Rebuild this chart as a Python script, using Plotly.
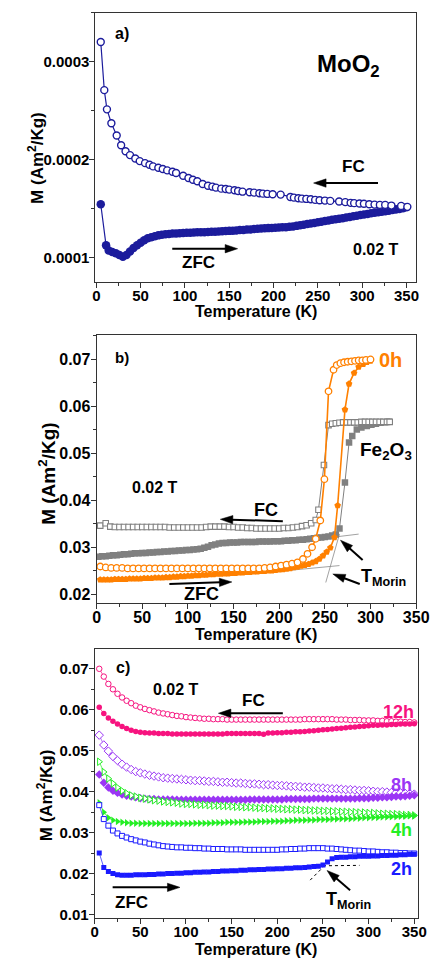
import numpy as np
import plotly.graph_objects as go

W, H = 441, 963
FONT = "Liberation Sans, Arial, sans-serif"

# ---------------- (a) MoO2 ----------------
a_fc_T = [5, 9, 12, 17, 23, 28, 33, 38, 44, 49,
          55, 60, 64, 70, 75, 80, 86, 90, 98, 104,
          109, 114, 120, 126, 131, 135, 141, 146, 150, 156,
          160, 165, 173, 178, 184, 188, 193, 199, 208, 219,
          223, 228, 232, 237, 242, 247, 252, 258, 264, 274,
          281, 287, 291, 297, 302, 308, 314, 320, 326, 333,
          344, 351]
# magnetisation in units of 1e-4 Am^2/kg
a_fc_M = [3.203, 2.712, 2.516, 2.374, 2.249, 2.150, 2.089, 2.049, 2.015, 1.988,
          1.967, 1.950, 1.934, 1.920, 1.907, 1.893, 1.879, 1.866, 1.839, 1.815,
          1.798, 1.782, 1.754, 1.737, 1.727, 1.717, 1.707, 1.703, 1.697, 1.690,
          1.683, 1.676, 1.670, 1.666, 1.660, 1.656, 1.653, 1.650, 1.646, 1.622,
          1.615, 1.609, 1.605, 1.602, 1.598, 1.592, 1.589, 1.585, 1.582, 1.575,
          1.569, 1.562, 1.559, 1.555, 1.552, 1.548, 1.544, 1.541, 1.541, 1.534,
          1.531, 1.521]

a_zfc_T = [5, 11, 14, 18, 22, 26, 30, 34, 38, 42,
           46, 50, 54, 58, 62, 66, 70, 74, 78, 82,
           86, 90, 94, 98, 102, 106, 110, 114, 118, 122,
           126, 130, 134, 138, 142, 146, 150, 154, 158, 162,
           166, 170, 174, 178, 182, 186, 190, 194, 198, 202,
           206, 210, 214, 218, 222, 226, 230, 234, 238, 242,
           246, 250, 254, 258, 262, 266, 270, 274, 278, 282,
           286, 290, 294, 298, 302, 306, 310, 314, 318, 322,
           326, 330, 334, 338, 342, 346, 350]
a_zfc_M = [1.548, 1.128, 1.075, 1.060, 1.048, 1.030, 1.012, 1.030, 1.065, 1.100,
           1.130, 1.155, 1.180, 1.200, 1.212, 1.222, 1.230, 1.236, 1.241, 1.245,
           1.248, 1.250, 1.252, 1.254, 1.256, 1.258, 1.260, 1.261, 1.262, 1.263,
           1.264, 1.266, 1.268, 1.270, 1.272, 1.274, 1.276, 1.278, 1.281, 1.284,
           1.286, 1.289, 1.291, 1.294, 1.297, 1.299, 1.302, 1.304, 1.306, 1.308,
           1.310, 1.312, 1.314, 1.317, 1.321, 1.327, 1.333, 1.339, 1.345, 1.351,
           1.357, 1.363, 1.370, 1.377, 1.383, 1.389, 1.395, 1.400, 1.406, 1.412,
           1.418, 1.424, 1.431, 1.437, 1.443, 1.449, 1.455, 1.461, 1.466, 1.472,
           1.477, 1.482, 1.488, 1.493, 1.499, 1.507, 1.518]

# ---------------- (b) Fe2O3 and 0h ----------------
b_fe_fc_T = [4, 10, 15, 20, 25, 30, 35, 40, 45, 50,
             55, 60, 65, 70, 75, 80, 85, 90, 95, 100,
             105, 110, 115, 120, 125, 130, 135, 140, 145, 150,
             155, 160, 165, 170, 175, 180, 185, 190, 195, 200,
             205, 210, 215, 220, 225, 230, 235, 240, 243, 249,
             254, 258, 262, 266, 270, 274, 278, 282, 286, 290,
             294, 298, 302, 306, 310, 314, 318, 321]
b_fe_fc_M = [0.0346, 0.0351, 0.0344, 0.0343, 0.0343, 0.0343, 0.0343, 0.0343, 0.0343, 0.0343,
             0.0343, 0.0343, 0.0343, 0.0343, 0.0343, 0.0342, 0.0342, 0.0342, 0.0342, 0.0342,
             0.0342, 0.0342, 0.0342, 0.0343, 0.0344, 0.0344, 0.0344, 0.0344, 0.0343, 0.0343,
             0.0342, 0.0342, 0.0341, 0.0341, 0.0340, 0.0340, 0.0340, 0.0340, 0.0340, 0.0340,
             0.0341, 0.0341, 0.0342, 0.0343, 0.0345, 0.0347, 0.0351, 0.0358, 0.0380, 0.0475,
             0.0560, 0.0563, 0.0564, 0.0565, 0.0566, 0.0566, 0.0566, 0.0566, 0.0566, 0.0567,
             0.0567, 0.0567, 0.0567, 0.0567, 0.0567, 0.0567, 0.0567, 0.0567]

b_fe_zfc_T = [2, 6, 10, 14, 18, 22, 26, 30, 34, 38,
              42, 46, 50, 54, 58, 62, 66, 70, 74, 78,
              82, 86, 90, 94, 98, 102, 106, 110, 114, 118,
              122, 126, 130, 134, 138, 142, 146, 150, 154, 158,
              162, 166, 170, 174, 178, 182, 186, 190, 194, 198,
              202, 206, 210, 214, 218, 222, 226, 230, 234, 238,
              242, 246, 250, 254, 258, 262, 266, 272, 276.5, 280,
              285, 290, 296, 301, 306, 311, 316, 320]
b_fe_zfc_M = [0.0280, 0.0281, 0.0281, 0.0282, 0.0283, 0.0283, 0.0284, 0.0285, 0.0285, 0.0286,
              0.0287, 0.0287, 0.0288, 0.0288, 0.0289, 0.0289, 0.0290, 0.0290, 0.0291, 0.0291,
              0.0292, 0.0292, 0.0293, 0.0293, 0.0294, 0.0294, 0.0295, 0.0296, 0.0297, 0.0299,
              0.0301, 0.0304, 0.0306, 0.0308, 0.0309, 0.0309, 0.0310, 0.0310, 0.0310, 0.0311,
              0.0311, 0.0311, 0.0311, 0.0311, 0.0312, 0.0312, 0.0312, 0.0312, 0.0313, 0.0313,
              0.0313, 0.0314, 0.0314, 0.0315, 0.0315, 0.0316, 0.0316, 0.0317, 0.0318, 0.0319,
              0.0320, 0.0321, 0.0322, 0.0323, 0.0325, 0.0327, 0.0340, 0.0438, 0.0523, 0.0537,
              0.0551, 0.0555, 0.0558, 0.0561, 0.0563, 0.0565, 0.0566, 0.0567]

b_0h_fc_T = [4, 10, 16, 22, 28, 34, 40, 46, 52, 58,
             64, 70, 76, 82, 88, 94, 100, 106, 112, 118,
             124, 130, 136, 142, 148, 154, 160, 166, 172, 178,
             184, 190, 196, 202, 208, 214, 220, 226, 231, 236,
             240, 245, 249.5, 254, 259.5, 263, 267, 271, 275, 279,
             283, 287, 291, 295, 300]
b_0h_fc_M = [0.0259, 0.0257, 0.0256, 0.0256, 0.0256, 0.0255, 0.0255, 0.0255, 0.0255, 0.0255,
             0.0255, 0.0255, 0.0255, 0.0255, 0.0255, 0.0255, 0.0255, 0.0255, 0.0255, 0.0255,
             0.0255, 0.0255, 0.0255, 0.0255, 0.0255, 0.0255, 0.0255, 0.0255, 0.0255, 0.0255,
             0.0256, 0.0257, 0.0259, 0.0261, 0.0263, 0.0265, 0.0268, 0.0275, 0.0286, 0.0300,
             0.0318, 0.0357, 0.0445, 0.0632, 0.0678, 0.0688, 0.0692, 0.0694, 0.0695, 0.0696,
             0.0697, 0.0698, 0.0698, 0.0699, 0.0700]

b_0h_zfc_T = [4, 8, 12, 16, 20, 24, 28, 32, 36, 40,
              44, 48, 52, 56, 60, 64, 68, 72, 76, 80,
              84, 88, 92, 96, 100, 104, 108, 112, 116, 120,
              124, 128, 132, 136, 140, 144, 148, 152, 156, 160,
              164, 168, 172, 176, 180, 184, 188, 192, 196, 200,
              204, 208, 212, 216, 220, 224, 228, 232, 236, 240,
              244, 248, 252, 256, 260.5, 264, 272, 276.5, 282, 287,
              292, 296, 300]
b_0h_zfc_M = [0.0231, 0.0231, 0.0231, 0.0231, 0.0232, 0.0232, 0.0232, 0.0232, 0.0233, 0.0233,
              0.0233, 0.0233, 0.0234, 0.0234, 0.0234, 0.0235, 0.0235, 0.0235, 0.0236, 0.0236,
              0.0237, 0.0237, 0.0238, 0.0238, 0.0239, 0.0239, 0.0240, 0.0240, 0.0241, 0.0241,
              0.0242, 0.0242, 0.0243, 0.0243, 0.0244, 0.0244, 0.0245, 0.0245, 0.0246, 0.0246,
              0.0247, 0.0247, 0.0248, 0.0248, 0.0249, 0.0249, 0.0250, 0.0250, 0.0251, 0.0252,
              0.0253, 0.0254, 0.0255, 0.0257, 0.0258, 0.0260, 0.0262, 0.0264, 0.0267, 0.0270,
              0.0275, 0.0282, 0.0290, 0.0299, 0.0321, 0.0389, 0.0593, 0.0648, 0.0671, 0.0684,
              0.0690, 0.0694, 0.0697]

# Morin-point construction lines (T, M pairs)
b_tangents = [((180, 266), (0.0245, 0.0261)),
              ((251, 266), (0.0225, 0.0328)),
              ((215, 287), (0.0311, 0.0328))]

# ---------------- (c) milled samples ----------------
c_T = [5, 10, 15, 20, 25, 30, 35, 40, 45, 50,
       55, 60, 65, 70, 75, 80, 85, 90, 95, 100,
       105, 110, 115, 120, 125, 130, 135, 140, 145, 150,
       155, 160, 165, 170, 175, 180, 185, 190, 195, 200,
       205, 210, 215, 220, 225, 230, 235, 240, 245, 250,
       255, 260, 265, 270, 275, 280, 285, 290, 295, 300,
       305, 310, 315, 320, 325, 330, 335, 340, 345, 350]

c_12h_fc = [0.0700, 0.0681, 0.0663, 0.0650, 0.0639, 0.0630, 0.0622, 0.0616, 0.0610, 0.0606,
            0.0602, 0.0599, 0.0596, 0.0593, 0.0591, 0.0589, 0.0587, 0.0585, 0.0584, 0.0582,
            0.0581, 0.0580, 0.0579, 0.0578, 0.0578, 0.0577, 0.0577, 0.0577, 0.0576, 0.0576,
            0.0576, 0.0576, 0.0576, 0.0576, 0.0576, 0.0576, 0.0576, 0.0576, 0.0576, 0.0576,
            0.0576, 0.0576, 0.0576, 0.0576, 0.0576, 0.0577, 0.0577, 0.0577, 0.0577, 0.0577,
            0.0577, 0.0577, 0.0576, 0.0576, 0.0576, 0.0575, 0.0575, 0.0575, 0.0574, 0.0574,
            0.0574, 0.0573, 0.0573, 0.0572, 0.0572, 0.0571, 0.0571, 0.0570, 0.0570, 0.0569]
c_12h_zfc = [0.0606, 0.0591, 0.0580, 0.0572, 0.0565, 0.0559, 0.0554, 0.0550, 0.0547, 0.0545,
             0.0544, 0.0543, 0.0543, 0.0542, 0.0542, 0.0542, 0.0541, 0.0541, 0.0541, 0.0541,
             0.0541, 0.0541, 0.0541, 0.0541, 0.0541, 0.0541, 0.0541, 0.0541, 0.0542, 0.0542,
             0.0542, 0.0542, 0.0542, 0.0542, 0.0542, 0.0542, 0.0540, 0.0543, 0.0543, 0.0544,
             0.0544, 0.0545, 0.0545, 0.0546, 0.0546, 0.0547, 0.0548, 0.0549, 0.0550, 0.0551,
             0.0552, 0.0553, 0.0554, 0.0555, 0.0556, 0.0557, 0.0558, 0.0559, 0.0560, 0.0561,
             0.0562, 0.0562, 0.0563, 0.0563, 0.0564, 0.0564, 0.0565, 0.0565, 0.0565, 0.0566]
c_8h_fc = [0.0538, 0.0514, 0.0499, 0.0486, 0.0476, 0.0467, 0.0460, 0.0454, 0.0449, 0.0446,
           0.0443, 0.0440, 0.0438, 0.0436, 0.0434, 0.0433, 0.0432, 0.0431, 0.0430, 0.0429,
           0.0428, 0.0427, 0.0427, 0.0426, 0.0425, 0.0425, 0.0424, 0.0423, 0.0423, 0.0422,
           0.0421, 0.0421, 0.0420, 0.0419, 0.0419, 0.0418, 0.0417, 0.0417, 0.0416, 0.0415,
           0.0415, 0.0414, 0.0413, 0.0413, 0.0412, 0.0411, 0.0411, 0.0410, 0.0409, 0.0409,
           0.0408, 0.0407, 0.0407, 0.0406, 0.0405, 0.0405, 0.0404, 0.0403, 0.0403, 0.0402,
           0.0401, 0.0400, 0.0400, 0.0399, 0.0398, 0.0397, 0.0397, 0.0396, 0.0395, 0.0394]
c_8h_zfc = [0.0442, 0.0422, 0.0410, 0.0402, 0.0397, 0.0393, 0.0390, 0.0388, 0.0386, 0.0384,
            0.0383, 0.0382, 0.0382, 0.0381, 0.0381, 0.0381, 0.0381, 0.0380, 0.0380, 0.0380,
            0.0380, 0.0380, 0.0380, 0.0380, 0.0380, 0.0380, 0.0380, 0.0380, 0.0380, 0.0380,
            0.0380, 0.0380, 0.0380, 0.0381, 0.0381, 0.0381, 0.0381, 0.0381, 0.0381, 0.0381,
            0.0381, 0.0382, 0.0382, 0.0382, 0.0382, 0.0382, 0.0382, 0.0383, 0.0383, 0.0383,
            0.0383, 0.0383, 0.0383, 0.0383, 0.0383, 0.0383, 0.0383, 0.0384, 0.0384, 0.0384,
            0.0385, 0.0385, 0.0386, 0.0386, 0.0387, 0.0388, 0.0388, 0.0389, 0.0390, 0.0391]
c_4h_fc = [0.0473, 0.0448, 0.0432, 0.0420, 0.0410, 0.0402, 0.0396, 0.0391, 0.0388, 0.0385,
           0.0383, 0.0381, 0.0379, 0.0378, 0.0376, 0.0375, 0.0374, 0.0373, 0.0371, 0.0370,
           0.0370, 0.0369, 0.0368, 0.0368, 0.0367, 0.0366, 0.0366, 0.0365, 0.0365, 0.0364,
           0.0363, 0.0363, 0.0362, 0.0362, 0.0361, 0.0360, 0.0360, 0.0359, 0.0359, 0.0358,
           0.0358, 0.0357, 0.0357, 0.0356, 0.0356, 0.0355, 0.0355, 0.0354, 0.0354, 0.0353,
           0.0353, 0.0352, 0.0352, 0.0351, 0.0351, 0.0350, 0.0350, 0.0349, 0.0349, 0.0348,
           0.0348, 0.0347, 0.0346, 0.0346, 0.0345, 0.0345, 0.0344, 0.0343, 0.0343, 0.0342]
c_4h_zfc = [0.0373, 0.0350, 0.0336, 0.0330, 0.0327, 0.0325, 0.0324, 0.0323, 0.0323, 0.0322,
            0.0322, 0.0322, 0.0322, 0.0322, 0.0322, 0.0322, 0.0322, 0.0322, 0.0322, 0.0322,
            0.0322, 0.0323, 0.0323, 0.0323, 0.0323, 0.0324, 0.0324, 0.0324, 0.0325, 0.0325,
            0.0325, 0.0325, 0.0326, 0.0326, 0.0326, 0.0327, 0.0327, 0.0327, 0.0328, 0.0328,
            0.0328, 0.0329, 0.0329, 0.0330, 0.0330, 0.0330, 0.0331, 0.0331, 0.0332, 0.0332,
            0.0332, 0.0333, 0.0333, 0.0334, 0.0334, 0.0334, 0.0335, 0.0335, 0.0336, 0.0336,
            0.0337, 0.0337, 0.0338, 0.0338, 0.0339, 0.0339, 0.0340, 0.0340, 0.0341, 0.0341]
c_2h_fc = [0.0367, 0.0333, 0.0317, 0.0305, 0.0298, 0.0292, 0.0288, 0.0284, 0.0281, 0.0278,
           0.0276, 0.0273, 0.0271, 0.0269, 0.0267, 0.0266, 0.0265, 0.0264, 0.0264, 0.0263,
           0.0263, 0.0262, 0.0262, 0.0261, 0.0261, 0.0260, 0.0260, 0.0260, 0.0259, 0.0259,
           0.0259, 0.0259, 0.0258, 0.0258, 0.0258, 0.0258, 0.0258, 0.0258, 0.0258, 0.0258,
           0.0259, 0.0259, 0.0260, 0.0260, 0.0261, 0.0261, 0.0262, 0.0262, 0.0262, 0.0262,
           0.0261, 0.0261, 0.0260, 0.0259, 0.0258, 0.0257, 0.0256, 0.0256, 0.0255, 0.0254,
           0.0254, 0.0253, 0.0252, 0.0252, 0.0251, 0.0251, 0.0250, 0.0250, 0.0249, 0.0249]
c_2h_zfc = [0.0250, 0.0215, 0.0205, 0.0200, 0.0197, 0.0196, 0.0196, 0.0196, 0.0197, 0.0197,
            0.0197, 0.0198, 0.0198, 0.0199, 0.0199, 0.0200, 0.0200, 0.0201, 0.0201, 0.0202,
            0.0202, 0.0203, 0.0203, 0.0204, 0.0204, 0.0205, 0.0205, 0.0206, 0.0206, 0.0207,
            0.0207, 0.0208, 0.0208, 0.0209, 0.0209, 0.0210, 0.0210, 0.0211, 0.0211, 0.0212,
            0.0212, 0.0213, 0.0213, 0.0214, 0.0214, 0.0215, 0.0216, 0.0217, 0.0218, 0.0221,
            0.0228, 0.0236, 0.0239, 0.0240, 0.0240, 0.0241, 0.0241, 0.0242, 0.0242, 0.0242,
            0.0243, 0.0243, 0.0244, 0.0244, 0.0245, 0.0245, 0.0246, 0.0246, 0.0247, 0.0247]

# dotted Morin construction for 2h (T, M pairs)
c_tangents = [((236, 253), (0.0184, 0.0222)),
              ((250, 290), (0.0219, 0.0220)),
              ((215, 252), (0.0212, 0.0220))]

NAVY = "#1c1c9c"
ORANGE = "#ff8000"
GREY = "#808080"
PINK = "#f7137f"
PURPLE = "#9b35f5"
GREEN = "#24ee24"
BLUE = "#1a1aff"

fig = go.Figure()


def series(x, y, axis, color, symbol, size, hollow, lw=1.0, mlw=1.2):
    fig.add_trace(go.Scatter(
        x=x, y=y, xaxis="x" + axis, yaxis="y" + axis, mode="lines+markers",
        line=dict(color=color, width=lw),
        marker=dict(symbol=symbol, size=size,
                    color="white" if hollow else color,
                    line=dict(color=color, width=mlw if hollow else 0)),
        showlegend=False, hoverinfo="skip"))


# (a)
series(a_zfc_T, np.array(a_zfc_M) * 1e-4, "", NAVY, "circle", 8.5, False, lw=1.2)
series(a_fc_T, np.array(a_fc_M) * 1e-4, "", NAVY, "circle", 7, True, lw=1.2, mlw=1.4)

# (b)
for (tx, ty) in b_tangents:
    fig.add_trace(go.Scatter(x=tx, y=ty, xaxis="x2", yaxis="y2", mode="lines",
                             line=dict(color="#8a8a8a", width=0.8),
                             showlegend=False, hoverinfo="skip"))
series(b_fe_zfc_T, b_fe_zfc_M, "2", GREY, "square", 6.5, False)
series(b_fe_fc_T, b_fe_fc_M, "2", GREY, "square", 5.5, True, mlw=1.1)
series(b_0h_zfc_T, b_0h_zfc_M, "2", ORANGE, "pentagon", 7, False, lw=1.6)
series(b_0h_fc_T, b_0h_fc_M, "2", ORANGE, "circle", 6.5, True, lw=1.6, mlw=1.3)

# (c)
for (tx, ty) in c_tangents:
    fig.add_trace(go.Scatter(x=tx, y=ty, xaxis="x3", yaxis="y3", mode="lines",
                             line=dict(color="black", width=1, dash="dot"),
                             showlegend=False, hoverinfo="skip"))
series(c_T, c_12h_fc, "3", PINK, "circle", 5.5, True, lw=0.7, mlw=1)
series(c_T, c_12h_zfc, "3", PINK, "circle", 5.5, False, lw=0.7)
series(c_T, c_8h_fc, "3", PURPLE, "diamond", 6.5, True, lw=0.7, mlw=1)
series(c_T, c_8h_zfc, "3", PURPLE, "diamond", 6.5, False, lw=0.7)
series(c_T, c_4h_fc, "3", GREEN, "triangle-right", 6.5, True, lw=0.7, mlw=1)
series(c_T, c_4h_zfc, "3", GREEN, "triangle-right", 6.5, False, lw=0.7)
series(c_T, c_2h_fc, "3", BLUE, "square", 5, True, lw=0.7, mlw=1)
series(c_T, c_2h_zfc, "3", BLUE, "square", 5, False, lw=0.7)


def dom(p0, p1, size):
    return [p0 / size, p1 / size]


def ydom(top, bottom):
    return [1 - bottom / H, 1 - top / H]


def xax(domain, rng, anchor, fsize):
    return dict(domain=domain, range=rng, anchor=anchor, showgrid=False, zeroline=False,
                showline=True, mirror=True, linecolor="#333", linewidth=1,
                ticks="outside", ticklen=5, tickcolor="#333", tick0=0, dtick=50,
                ticklabelstandoff=-5,
                minor=dict(dtick=25, ticks="outside", ticklen=3, tickcolor="#333"),
                tickfont=dict(family=FONT, size=fsize, color="black", weight="bold"))


def yax(domain, rng, anchor, dtick, fmt, fsize):
    return dict(domain=domain, range=rng, anchor=anchor, showgrid=False, zeroline=False,
                showline=True, mirror=True, linecolor="#333", linewidth=1,
                ticks="outside", ticklen=5, tickcolor="#333", tick0=0, dtick=dtick,
                tickformat=fmt, ticklabelstandoff=-3,
                minor=dict(dtick=dtick / 2, ticks="outside", ticklen=3, tickcolor="#333"),
                tickfont=dict(family=FONT, size=fsize, color="black", weight="bold"))


anns = []
shapes = []


def text(t, px, py, size, color="black", **kw):
    anns.append(dict(text="<b>" + t + "</b>", x=px / W, y=1 - py / H, xref="paper", yref="paper",
                     showarrow=False, xanchor="center", yanchor="middle",
                     font=dict(family=FONT, size=size, color=color), **kw))


def arrow(hx, hy, tx, ty, head=13, half=4.2):
    """Black arrow drawn in page pixels: shaft from the tail plus a filled head."""
    dx, dy = hx - tx, hy - ty
    n = (dx * dx + dy * dy) ** 0.5
    ux, uy = dx / n, dy / n
    bx, by = hx - head * ux, hy - head * uy
    px_, py_ = -uy, ux

    def P(x, y):
        return f"{x / W:.5f},{1 - y / H:.5f}"

    shapes.append(dict(type="line", xref="paper", yref="paper",
                       x0=tx / W, y0=1 - ty / H, x1=(bx + ux) / W, y1=1 - (by + uy) / H,
                       line=dict(color="black", width=2)))
    shapes.append(dict(type="path", xref="paper", yref="paper",
                       path=f"M{P(hx, hy)} L{P(bx + half * px_, by + half * py_)} "
                            f"L{P(bx - half * px_, by - half * py_)} Z",
                       fillcolor="black", line=dict(color="black", width=0.5)))


ytitle = "M (Am<sup>2</sup>/Kg)"

# (a) labels
text("a)", 123, 34, 16)
text("MoO<sub>2</sub>", 358, 66, 24)
text("FC", 363, 167, 17)
arrow(322, 184, 389, 184)
text("ZFC", 202, 264, 17)
arrow(243, 250, 175, 250)
text("0.02 T", 387, 251, 16)
text("Temperature (K)", 262, 313, 16)
text(ytitle, 33, 159, 17, textangle=-90)

# (b) labels
text("b)", 123, 359, 15)
text("0h", 402, 362, 20, ORANGE)
text("Fe<sub>2</sub>O<sub>3</sub>", 397, 453, 19)
text("0.02 T", 157, 490, 16)
text("FC", 272, 513, 18)
arrow(225, 522, 290, 524)
text("ZFC", 205, 597, 18)
arrow(237, 585, 172, 587)
text("T<sub>Morin</sub>", 395, 581, 18)
arrow(350, 543, 373, 563)
arrow(342, 577, 370, 587)
text("Temperature (K)", 262, 638, 16)
text(ytitle, 44, 476, 19, textangle=-90)

# (c) labels
text("c)", 124, 671, 16)
text("0.02 T", 179, 693, 16)
text("FC", 260, 704, 17)
arrow(223, 717, 290, 717)
text("ZFC", 133, 907, 17)
arrow(183, 892, 113, 892)
text("12h", 410, 716, 18, PINK)
text("8h", 413, 789, 18, PURPLE)
text("4h", 413, 834, 18, GREEN)
text("2h", 413, 874, 18, BLUE)
text("T<sub>Morin</sub>", 358, 905, 18)
arrow(336, 875, 360, 895)
text("Temperature (K)", 262, 954, 16)
text(ytitle, 42, 799, 17, textangle=-90)

fig.update_layout(
    width=W, height=H, margin=dict(l=0, r=0, t=0, b=0),
    paper_bgcolor="white", plot_bgcolor="white",
    xaxis=xax(dom(95, 428, W), [-1.1, 360.2], "y", 15),
    yaxis=yax(ydom(13, 283), [0.0000759, 0.00035], "x", 0.0001, ".4f", 15),
    xaxis2=xax(dom(96.3, 428.7, W), [0, 350], "y2", 16),
    yaxis2=yax(ydom(336.7, 606), [0.01816, 0.07521], "x2", 0.01, ".2f", 16),
    xaxis3=xax(dom(94.3, 431, W), [0, 354.5], "y3", 15),
    yaxis3=yax(ydom(652.7, 922.7), [0.00917, 0.07476], "x3", 0.01, ".2f", 15),
    annotations=anns,
    shapes=shapes,
)

fig.write_html("out.html")
